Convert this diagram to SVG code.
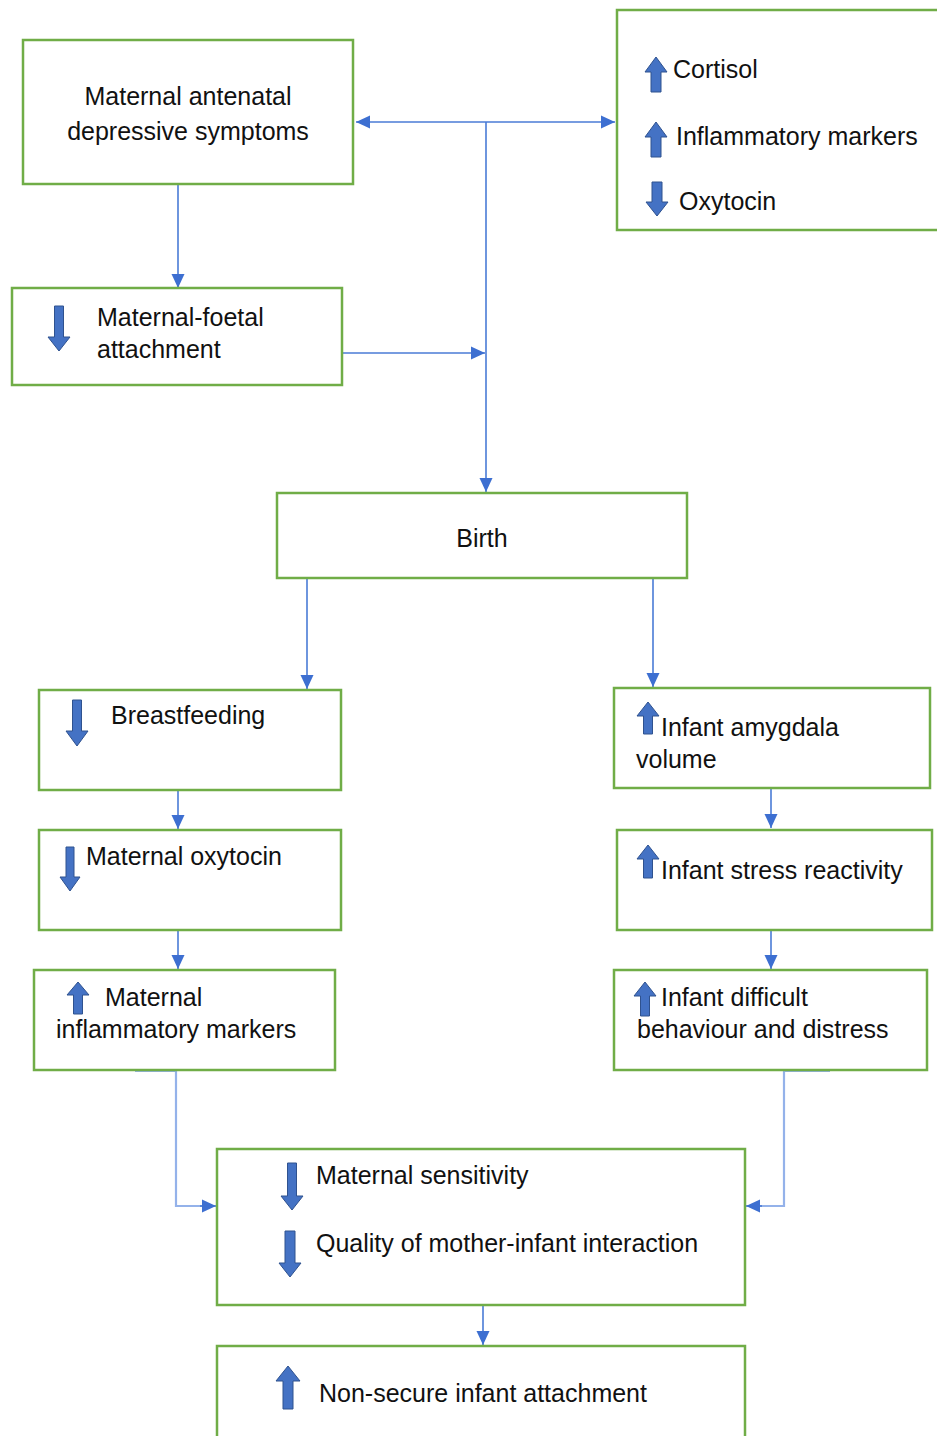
<svg xmlns="http://www.w3.org/2000/svg" width="937" height="1436" viewBox="0 0 937 1436">
<defs>
<style>
.box{fill:#ffffff;stroke:#70ad47;stroke-width:2.5}
.t{font-family:"Liberation Sans",Arial,sans-serif;font-size:25px;fill:#111111}
.c{fill:none;stroke:#4a7bd6;stroke-width:1.6}
.cl{fill:none;stroke:#94b2ea;stroke-width:2.2}
.ic{fill:#4472c4;stroke:#2f528f;stroke-width:1}
</style>
<marker id="ah" markerUnits="userSpaceOnUse" markerWidth="16" markerHeight="16" viewBox="0 0 16 16" refX="15" refY="8" orient="auto">
<path d="M1,1.5 L15,8 L1,14.5 Z" fill="#3d6fd1"/>
</marker>
<marker id="ahs" markerUnits="userSpaceOnUse" markerWidth="16" markerHeight="16" viewBox="0 0 16 16" refX="15" refY="8" orient="auto-start-reverse">
<path d="M1,1.5 L15,8 L1,14.5 Z" fill="#3d6fd1"/>
</marker>
</defs>
<rect width="937" height="1436" fill="#ffffff"/>

<g id="connectors">
<path class="c" d="M356,122 H615" marker-start="url(#ahs)" marker-end="url(#ah)"/>
<path class="c" d="M486,122 V492" marker-end="url(#ah)"/>
<path class="c" d="M178,185 V288" marker-end="url(#ah)"/>
<path class="c" d="M343,353 H485" marker-end="url(#ah)"/>
<path class="c" d="M307,579 V689" marker-end="url(#ah)"/>
<path class="c" d="M653,579 V687" marker-end="url(#ah)"/>
<path class="c" d="M178,791 V829" marker-end="url(#ah)"/>
<path class="c" d="M178,931 V969" marker-end="url(#ah)"/>
<path class="c" d="M771,789 V828" marker-end="url(#ah)"/>
<path class="c" d="M771,931 V969" marker-end="url(#ah)"/>
<path class="cl" d="M135,1071 H176 V1206 H203"/>
<path class="c" d="M200,1206 H216" marker-end="url(#ah)"/>
<path class="cl" d="M830,1071 H784 V1206 H758"/>
<path class="c" d="M762,1206 H746" marker-end="url(#ah)"/>
<path class="c" d="M483,1306 V1345" marker-end="url(#ah)"/>
</g>

<g id="node-antenatal">
<rect class="box" x="23" y="40" width="330" height="144"/>
<text class="t" x="188" y="105" text-anchor="middle">Maternal antenatal</text>
<text class="t" x="188" y="140" text-anchor="middle">depressive symptoms</text>
</g>

<g id="node-biomarkers">
<rect class="box" x="617" y="10" width="330" height="220"/>
<path class="ic" d="M651,92 H661 V72 H667 L656,57 L645,72 H651 Z"/>
<text class="t" x="673" y="78">Cortisol</text>
<path class="ic" d="M651,157 H661 V137 H667 L656,122 L645,137 H651 Z"/>
<text class="t" x="676" y="145">Inflammatory markers</text>
<path class="ic" d="M652,182 H662 V202 H668 L657,216 L646,202 H652 Z"/>
<text class="t" x="679" y="210">Oxytocin</text>
</g>

<g id="node-mfa">
<rect class="box" x="12" y="288" width="330" height="97"/>
<path class="ic" d="M54.5,306 H63.5 V337 H70 L59,351 L48,337 H54.5 Z"/>
<text class="t" x="97" y="326">Maternal-foetal</text>
<text class="t" x="97" y="358">attachment</text>
</g>

<g id="node-birth">
<rect class="box" x="277" y="493" width="410" height="85"/>
<text class="t" x="482" y="547" text-anchor="middle">Birth</text>
</g>

<g id="node-breastfeeding">
<rect class="box" x="39" y="690" width="302" height="100"/>
<path class="ic" d="M72.5,700 H81.5 V731 H88 L77,746 L66,731 H72.5 Z"/>
<text class="t" x="111" y="724">Breastfeeding</text>
</g>

<g id="node-amygdala">
<rect class="box" x="614" y="688" width="316" height="100"/>
<path class="ic" d="M643.5,734 H652.5 V716 H659 L648,702 L637,716 H643.5 Z"/>
<text class="t" x="661" y="736">Infant amygdala</text>
<text class="t" x="636" y="768">volume</text>
</g>

<g id="node-oxytocin">
<rect class="box" x="39" y="830" width="302" height="100"/>
<path class="ic" d="M66,847 H74 V877 H80 L70,891 L60,877 H66 Z"/>
<text class="t" x="86" y="865">Maternal oxytocin</text>
</g>

<g id="node-stress">
<rect class="box" x="617" y="830" width="315" height="100"/>
<path class="ic" d="M643.5,878 H652.5 V859 H659 L648,845 L637,859 H643.5 Z"/>
<text class="t" x="661" y="879">Infant stress reactivity</text>
</g>

<g id="node-inflammatory">
<rect class="box" x="34" y="970" width="301" height="100"/>
<path class="ic" d="M73.5,1014 H82.5 V995 H89 L78,982 L67,995 H73.5 Z"/>
<text class="t" x="105" y="1006">Maternal</text>
<text class="t" x="56" y="1038">inflammatory markers</text>
</g>

<g id="node-difficult">
<rect class="box" x="614" y="970" width="313" height="100"/>
<path class="ic" d="M640.5,1016 H649.5 V996 H656 L645,982 L634,996 H640.5 Z"/>
<text class="t" x="661" y="1006">Infant difficult</text>
<text class="t" x="637" y="1038">behaviour and distress</text>
</g>

<g id="node-sensitivity">
<rect class="box" x="217" y="1149" width="528" height="156"/>
<path class="ic" d="M287.5,1163 H296.5 V1196 H303 L292,1210 L281,1196 H287.5 Z"/>
<text class="t" x="316" y="1184">Maternal sensitivity</text>
<path class="ic" d="M285,1231 H295 V1263 H301 L290,1277 L279,1263 H285 Z"/>
<text class="t" x="316" y="1252">Quality of mother-infant interaction</text>
</g>

<g id="node-attachment">
<rect class="box" x="217" y="1346" width="528" height="100"/>
<path class="ic" d="M283,1409 H293 V1381 H300 L288,1366 L276,1381 H283 Z"/>
<text class="t" x="319" y="1402">Non-secure infant attachment</text>
</g>
</svg>
